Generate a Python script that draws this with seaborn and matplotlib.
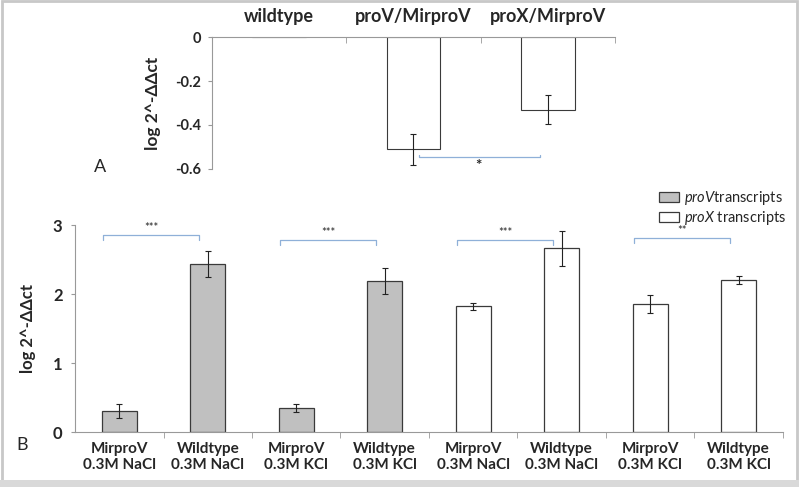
import numpy as np
import pandas as pd
import matplotlib
matplotlib.use("Agg")
import matplotlib.pyplot as plt
import seaborn as sns
from matplotlib.patches import Rectangle

# Panel A data
top_groups = ["wildtype", "proV/MirproV", "proX/MirproV"]
top_values = [0.0, -0.51, -0.33]
top_errors = [np.nan, 0.07, 0.065]

# Panel B data
b_strains = ["MirproV", "Wildtype", "MirproV", "Wildtype",
             "MirproV", "Wildtype", "MirproV", "Wildtype"]
b_salts = ["0.3M NaCl", "0.3M NaCl", "0.3M KCl", "0.3M KCl",
           "0.3M NaCl", "0.3M NaCl", "0.3M KCl", "0.3M KCl"]
b_transcripts = ["proV"] * 4 + ["proX"] * 4
b_values = [0.30, 2.43, 0.35, 2.19, 1.82, 2.66, 1.85, 2.20]
b_errors = [0.10, 0.19, 0.06, 0.19, 0.05, 0.26, 0.13, 0.055]
sig_pairs = [(0, 1), (2, 3), (4, 5), (6, 7)]
sig_labels = ["***", "***", "***", "**"]
sig_heights = [2.85, 2.78, 2.78, 2.81]

sns.set_style("white")
plt.rcParams["font.family"] = ["Lato", "DejaVu Sans"]
plt.rcParams["mathtext.fontset"] = "custom"
plt.rcParams["mathtext.it"] = "Lato:italic"
plt.rcParams["mathtext.rm"] = "Lato"

fig = plt.figure(figsize=(7.99, 4.87), dpi=100)
edge = "#3a3a3a"
axis_grey = "#999999"

# --------------------
# Panel A
# --------------------
ax1 = fig.add_axes([0.2653, 0.653, 0.5044, 0.271])
dfa = pd.DataFrame({"group": top_groups, "value": top_values})
sns.barplot(data=dfa, x="group", y="value", color="white", edgecolor=edge,
            linewidth=0.8, width=0.4, errorbar=None, ax=ax1)
for i, (v, e) in enumerate(zip(top_values, top_errors)):
    if not np.isnan(e):
        ax1.errorbar(i, v, yerr=e, color="#222222", capsize=2.5, lw=0.8, capthick=0.8)
ax1.set_ylim(-0.6, 0)
ax1.set_xlim(-0.5, 2.5)
ax1.set_yticks([-0.6, -0.4, -0.2, 0])
ax1.set_yticklabels(["-0.6", "-0.4", "-0.2", "0"], fontweight="bold", fontsize=10.5)
ax1.xaxis.tick_top()
ax1.set_xticks(range(3))
ax1.set_xticklabels(top_groups, fontweight="bold", fontsize=13)
ax1.tick_params(axis="x", which="major", length=0, pad=9)
ax1.set_xticks([0.5, 1.5, 2.5], minor=True)
ax1.tick_params(axis="x", which="minor", direction="in", length=4, color=axis_grey, top=True)
ax1.tick_params(axis="y", which="major", direction="out", length=3, color=axis_grey, left=True, pad=5)
ax1.set_xlabel("")
ax1.set_ylabel("log 2^-ΔΔct", fontweight="bold", fontsize=12.5, labelpad=10)
for s in ["bottom", "right"]:
    ax1.spines[s].set_visible(False)
for s in ["top", "left"]:
    ax1.spines[s].set_color(axis_grey)
    ax1.spines[s].set_linewidth(0.8)
# significance bracket
ax1.plot([1.04, 1.04, 1.94, 1.94], [-0.538, -0.545, -0.545, -0.538],
         color="#8fb0d8", lw=0.9, clip_on=False)
ax1.text(1.48, -0.553, "*", ha="center", va="top", fontsize=11, fontweight="bold")
fig.text(100 / 799, 1 - 167 / 487, "A", ha="center", va="center", fontsize=13)

# --------------------
# Panel B
# --------------------
ax2 = fig.add_axes([0.0939, 0.1129, 0.886, 0.425])
dfb = pd.DataFrame({"slot": range(8), "value": b_values,
                    "transcript": b_transcripts})
sns.barplot(data=dfb, x="slot", y="value", hue="transcript", dodge=False,
            palette={"proV": "#c0c0c0", "proX": "white"}, edgecolor=edge,
            linewidth=0.9, width=0.4, errorbar=None, ax=ax2)
ax2.errorbar(range(8), b_values, yerr=b_errors, fmt="none", ecolor="#222222",
             capsize=2.5, lw=0.8, capthick=0.8)
ax2.set_ylim(0, 3)
ax2.set_xlim(-0.5, 7.5)
ax2.set_yticks([0, 1, 2, 3])
ax2.set_yticklabels(["0", "1", "2", "3"], fontsize=12, fontweight="bold")
ax2.set_xticks(range(8))
ax2.set_xticklabels([f"{s}\n{t}" for s, t in zip(b_strains, b_salts)],
                    fontweight="bold", fontsize=11, linespacing=1.25)
ax2.tick_params(axis="x", which="major", length=0, pad=7)
ax2.set_xticks(np.arange(0.5, 8, 1), minor=True)
ax2.tick_params(axis="x", which="minor", direction="out", length=4, color=axis_grey, bottom=True)
ax2.tick_params(axis="y", direction="out", length=3, color=axis_grey, left=True, pad=6)
ax2.set_xlabel("")
ax2.set_ylabel("log 2^-ΔΔct", fontweight="bold", fontsize=12, labelpad=12)
for s in ["top", "right"]:
    ax2.spines[s].set_visible(False)
for s in ["bottom", "left"]:
    ax2.spines[s].set_color(axis_grey)
    ax2.spines[s].set_linewidth(0.8)
for (i, j), lab, h in zip(sig_pairs, sig_labels, sig_heights):
    x0, x1 = i - 0.18, j - 0.1
    ax2.plot([x0, x0, x1, x1], [h - 0.07, h, h, h - 0.07],
             color="#8fb0d8", lw=0.9, clip_on=False)
    ax2.text((x0 + x1) / 2, h + 0.03, lab, ha="center", va="bottom", fontsize=8)

handles, _ = ax2.get_legend_handles_labels()
ax2.legend(handles, [r"$\mathit{proV}$transcripts", r"$\mathit{proX}$ transcripts"],
           loc="upper right", bbox_to_anchor=(792 / 799, 1 - 183 / 487),
           bbox_transform=fig.transFigure, frameon=False, fontsize=10.5,
           handlelength=1.4, handleheight=0.7, handletextpad=0.3,
           labelspacing=0.15, borderaxespad=0)
fig.text(22 / 799, 1 - 445 / 487, "B", ha="center", va="center", fontsize=13)

# light grey frame round the whole picture
fig.patches.append(Rectangle((0.002, 0.012), 0.996, 0.986, transform=fig.transFigure,
                             fill=False, edgecolor="#c8c8c8", lw=2))
fig.patches.append(Rectangle((0, 0), 1, 0.014, transform=fig.transFigure,
                             facecolor="#d9d9d9", edgecolor="none"))

fig.savefig("out.png", dpi=100)
